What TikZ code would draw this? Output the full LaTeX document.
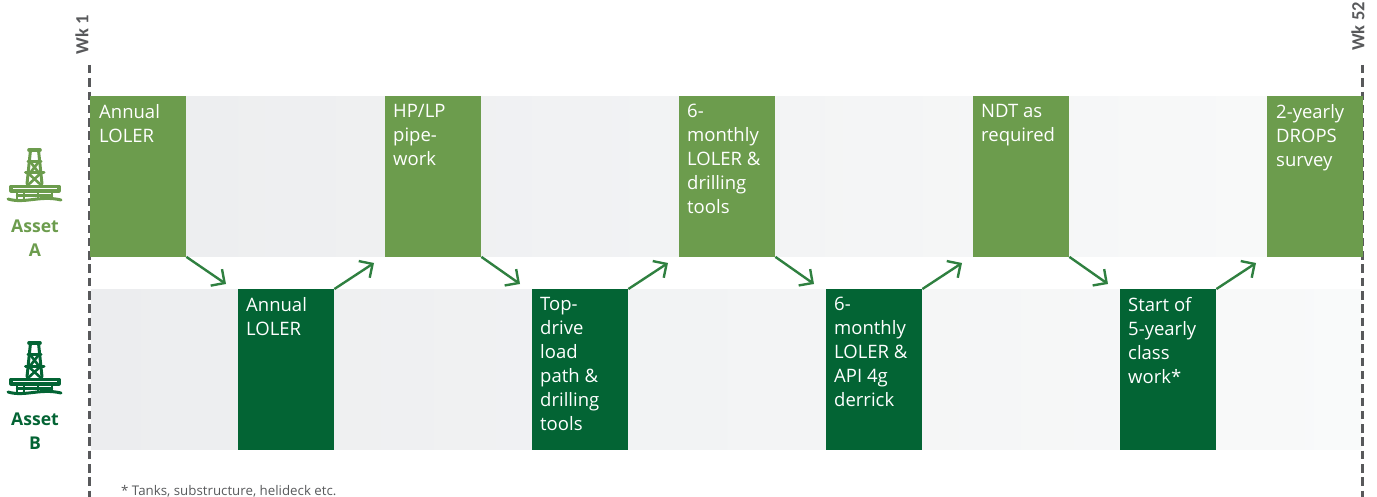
\documentclass[tikz,border=0pt]{standalone}
\usepackage{fontspec}
\setmainfont{Open Sans}
\newfontfamily\wkfont{Carlito}
\usetikzlibrary{arrows.meta}
\definecolor{ga}{HTML}{6C9C4D}
\definecolor{gb}{HTML}{036434}
\definecolor{arr}{HTML}{2F8040}
\definecolor{dashc}{HTML}{58595B}
\definecolor{stripl}{HTML}{ECEDEF}
\definecolor{stripr}{HTML}{F9FAFA}
\tikzset{
  x=1pt,y=-1pt,
  strip/.style={left color=stripl,right color=stripr,draw=none,minimum width=1271pt,minimum height=160.5pt,anchor=north west,inner sep=0pt},
  boxbase/.style={minimum width=96pt,minimum height=160.5pt,anchor=north west,inner sep=0pt,draw=none,text=white},
  boxa/.style={boxbase,fill=ga},
  boxb/.style={boxbase,fill=gb},
  lab/.style={anchor=north west,inner sep=0pt,text=white,font=\fontsize{18.5}{24}\selectfont,align=left},
  link/.style={draw=arr,line width=2.4pt,-{Straight Barb[length=10pt,width=20pt,line width=2.4pt]}},
  tick/.style={draw=dashc,line width=3pt,dash pattern=on 8.5pt off 4.8pt},
  wk/.style={rotate=90,text=dashc,font=\wkfont\bfseries\fontsize{18.5}{20}\selectfont,inner sep=0pt},
  asset/.style={font=\bfseries\fontsize{17.6}{24}\selectfont,align=center,inner sep=0pt},
}
\newcommand{\rig}[3]{%
  \begin{scope}[shift={(#1,#2)},draw=#3,line width=3pt,line cap=round,line join=round]
    \draw[line width=3.6pt] (29,2) -- (40,2);
    \draw (30.5,2) -- (27,36) (38.5,2) -- (42,36);
    \draw (28,13.5) -- (41,13.5) (25.5,25) -- (44,25);
    \draw[line width=2.6pt] (30,13.5) -- (39,25) (39,13.5) -- (30,25);
    \draw[line width=2.6pt] (28,25) -- (41,37) (41,25) -- (28,37);
    \draw[line width=3.2pt] (11,43) -- (11,38.5) -- (59,38.5) -- (59,43) -- cycle;
    \draw[line width=2.4pt] (17,44) -- (17,52) (24,44) -- (24,51) (38,44) -- (38,50) (52,44) -- (52,50);
    \draw[line width=2.4pt] (17,47.5) -- (52,47.5);
    \draw (8,51) .. controls (25,56) and (40,47) .. (61,52);
  \end{scope}}
\begin{document}
\begin{tikzpicture}
\useasboundingbox (0,0) rectangle (1377,497);
\node[strip] (sa) at (91,96) {};
\node[strip] (sb) at (91,289) {};

\coordinate (t1a) at (89.5,65); \coordinate (t1b) at (89.5,497);
\coordinate (t2a) at (1362.5,65); \coordinate (t2b) at (1362.5,497);
\draw[tick] (t1a) -- (t1b);
\draw[tick] (t2a) -- (t2b);
\node[wk] (w1) at (82,34.5) {Wk 1};
\node[wk] (w52) at (1358,26.5) {Wk 52};

\node[boxa] (a1) at (90,96) {};
\node[boxa] (a2) at (385,96) {};
\node[boxa] (a3) at (679,96) {};
\node[boxa] (a4) at (973,96) {};
\node[boxa] (a5) at (1267,96) {};
\node[boxb] (b1) at (238,289) {};
\node[boxb] (b2) at (532,289) {};
\node[boxb] (b3) at (826,289) {};
\node[boxb] (b4) at (1120,289) {};

\node[lab] (ta1) at (99,104) {Annual\\LOLER};
\node[lab] (ta2) at (393,104) {HP/LP\\pipe-\\work};
\node[lab] (ta3) at (687,104) {6-\\monthly\\LOLER \&\\drilling\\tools};
\node[lab] (ta4) at (981,104) {NDT as\\required};
\node[lab] (ta5) at (1276,104) {2-yearly\\DROPS\\survey};
\node[lab] (tb1) at (246,297) {Annual\\LOLER};
\node[lab] (tb2) at (540,297) {Top-\\drive\\load\\path \&\\drilling\\tools};
\node[lab] (tb3) at (834,297) {6-\\monthly\\LOLER \&\\API 4g\\derrick};
\node[lab] (tb4) at (1128,297) {Start of\\5-yearly\\class\\work*};

\coordinate (e1) at (226,284); \coordinate (e2) at (374,263);
\coordinate (e3) at (520,284); \coordinate (e4) at (668,263);
\coordinate (e5) at (814,284); \coordinate (e6) at (962,263);
\coordinate (e7) at (1108,284); \coordinate (e8) at (1256,263);
\draw[link] (a1.south east) -- (e1);
\draw[link] (b1.north east) -- (e2);
\draw[link] (a2.south east) -- (e3);
\draw[link] (b2.north east) -- (e4);
\draw[link] (a3.south east) -- (e5);
\draw[link] (b3.north east) -- (e6);
\draw[link] (a4.south east) -- (e7);
\draw[link] (b4.north east) -- (e8);

\rig{0}{148}{ga}
\rig{0}{341}{gb}
\node[asset,text=ga] (la) at (35,238) {Asset\\A};
\node[asset,text=gb] (lb) at (35,431) {Asset\\B};
\node[anchor=west,inner sep=0pt,text=dashc,font=\fontsize{13.3}{14}\selectfont] (fn) at (121,491) {* Tanks, substructure, helideck etc.};
\end{tikzpicture}
\end{document}
